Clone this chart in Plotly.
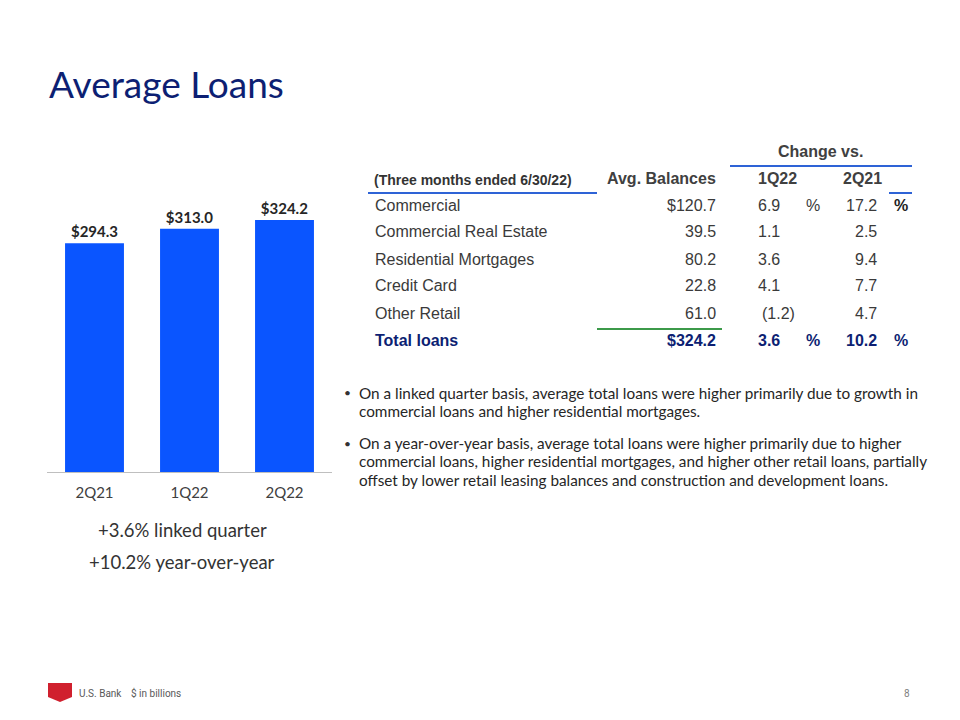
import plotly.graph_objects as go

W, H = 960, 720


def px(x):
    return x / W


def py(y):
    return 1 - y / H


# ---------------- data ----------------
quarters = ['2Q21', '1Q22', '2Q22']
avg_loans = [294.3, 313.0, 324.2]

row_labels = ['Commercial', 'Commercial Real Estate', 'Residential Mortgages',
              'Credit Card', 'Other Retail', 'Total loans']
avg_balances = ['$120.7', '39.5', '80.2', '22.8', '61.0', '$324.2']
chg_vs_1q22 = ['6.9', '1.1', '3.6', '4.1', '(1.2)', '3.6']
chg_vs_2q21 = ['17.2', '2.5', '9.4', '7.7', '4.7', '10.2']
pct_rows = [0, 5]

header_period = '(Three months ended 6/30/22)'
header_cols = ['Avg. Balances', '1Q22', '2Q21']
header_group = 'Change vs.'

summary_lines = ['+3.6% linked quarter', '+10.2% year-over-year']

bullets = [
    ['On a linked quarter basis, average total loans were higher primarily due to growth in',
     'commercial loans and higher residential mortgages.'],
    ['On a year-over-year basis, average total loans were higher primarily due to higher',
     'commercial loans, higher residential mortgages, and higher other retail loans, partially',
     'offset by lower retail leasing balances and construction and development loans.'],
]

# ---------------- styles ----------------
BAR_COLOR = '#0A55FF'
NAVY = '#0D1F73'
TEXT = '#3A3A3A'
TABLE_FONT = 'Liberation Sans'
BODY_FONT = 'Lato'

fig = go.Figure()
fig.add_trace(go.Bar(
    x=quarters, y=avg_loans, width=0.62,
    marker=dict(color=BAR_COLOR, line=dict(width=0)),
    text=[f'${v:.1f}' for v in avg_loans],
    texttemplate='<b>%{text}</b>',
    textposition='outside', cliponaxis=False,
    textfont=dict(family=BODY_FONT, size=15, color='#262626'),
    hoverinfo='skip',
))

annotations = []


def add_text(x, y, text, size, color, anchor='left', family=TABLE_FONT, bold=False):
    annotations.append(dict(
        x=px(x), y=py(y), xref='paper', yref='paper',
        text=f'<b>{text}</b>' if bold else text,
        showarrow=False, xanchor=anchor, yanchor='middle',
        font=dict(family=family, size=size, color=color),
    ))


# title
add_text(47, 83, 'Average Loans', 37, NAVY, family=BODY_FONT)

# table header
add_text(820, 151, header_group, 16, '#404040', anchor='center', bold=True)
add_text(372, 180, header_period, 14, '#333333', bold=True)
add_text(718, 178, header_cols[0], 16, '#404040', anchor='right', bold=True)
add_text(777, 178, header_cols[1], 16, '#404040', anchor='center', bold=True)
add_text(862, 178, header_cols[2], 16, '#404040', anchor='center', bold=True)

row_y = [205, 232, 259, 286, 313, 340]
for i, lab in enumerate(row_labels):
    y = row_y[i]
    total = i == len(row_labels) - 1
    col = NAVY if total else TEXT
    add_text(373, y, lab, 16, col, bold=total)
    add_text(718, y, avg_balances[i], 16, col, anchor='right', bold=total)
    v1 = chg_vs_1q22[i]
    add_text(797 if v1.startswith('(') else 782, y, v1, 16, col, anchor='right', bold=total)
    add_text(879, y, chg_vs_2q21[i], 16, col, anchor='right', bold=total)
    if i in pct_rows:
        add_text(804, y, '%', 16, col, bold=total)
        add_text(892, y, '%', 16, NAVY if total else '#222222', bold=True)

# summary under bars
for j, s in enumerate(summary_lines):
    add_text(182, 530 + 32 * j, s, 18.5, '#333333', anchor='center', family=BODY_FONT)

# bullets
by = [[393, 411], [443, 461, 480]]
for b, lines in enumerate(bullets):
    add_text(342, by[b][0], '•', 12, '#333333', family=BODY_FONT)
    for k, ln in enumerate(lines):
        add_text(357, by[b][k], ln, 15.3, '#262626', family=BODY_FONT)

# footer
add_text(77, 693, 'U.S. Bank', 10, '#595959', family='Roboto')
add_text(129, 693, '$ in billions', 10, '#595959', family='Roboto')
add_text(907, 693, '8', 10, '#7F7F7F', anchor='center', family='Roboto')

shapes = []


def hline(x0, x1, y, color, width=2):
    shapes.append(dict(type='line', xref='paper', yref='paper',
                       x0=px(x0), x1=px(x1), y0=py(y), y1=py(y),
                       line=dict(color=color, width=width)))


hline(730, 912, 166, '#2E63D6')
hline(368, 597, 193, '#2E63D6')
hline(889, 912, 193, '#2E63D6')
hline(597, 722, 329, '#3C9A4A')

shield = [(48, 683), (72, 683), (72, 697), (60, 702), (48, 697)]
path = 'M ' + ' L '.join(f'{px(a):.5f},{py(b):.5f}' for a, b in shield) + ' Z'
shapes.append(dict(type='path', xref='paper', yref='paper', path=path,
                   fillcolor='#D0202E', line=dict(width=0)))

fig.update_layout(
    width=W, height=H, margin=dict(l=0, r=0, t=0, b=0),
    paper_bgcolor='white', plot_bgcolor='white', showlegend=False,
    xaxis=dict(domain=[px(47), px(332)], range=[-0.5, 2.5], showline=True,
               linecolor='#BFBFBF', linewidth=1, ticks='', showgrid=False,
               zeroline=False, ticklabelstandoff=7,
               tickfont=dict(family=BODY_FONT, size=15, color='#404040')),
    yaxis=dict(domain=[py(472), py(130)], range=[0, 440], visible=False),
    annotations=annotations, shapes=shapes,
)

fig.write_html('out.html')
